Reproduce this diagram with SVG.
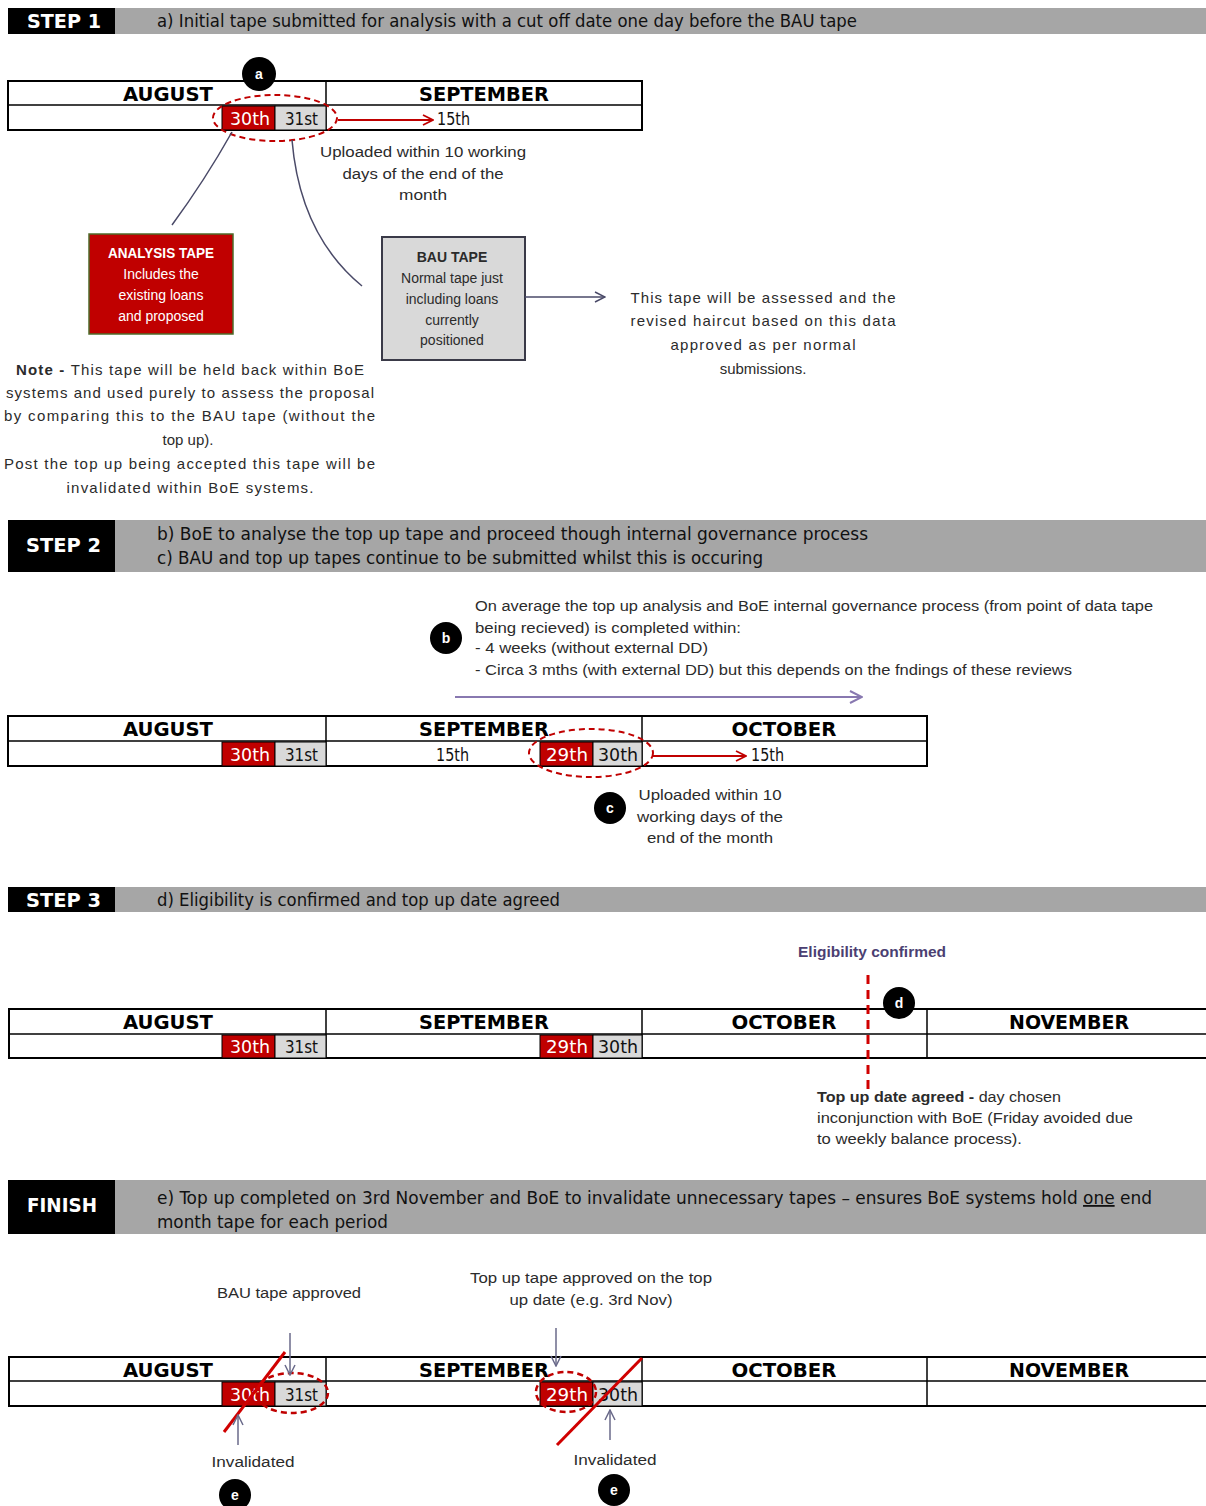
<svg xmlns="http://www.w3.org/2000/svg" width="1206" height="1506" viewBox="0 0 1206 1506">
<defs>
<style>
.blk{fill:#000}
.gry{fill:#a6a6a6}
.lbl{font-family:"DejaVu Sans Condensed","DejaVu Sans",sans-serif;font-weight:bold;font-size:19px;fill:#fff}
.ht{font-family:"DejaVu Sans Condensed","DejaVu Sans",sans-serif;font-size:18px;fill:#111}
.tbl{fill:#fff;stroke:#000;stroke-width:2}
.ln{stroke:#000;stroke-width:1.5}
.mon{font-family:"DejaVu Sans Condensed","DejaVu Sans",sans-serif;font-weight:bold;font-size:20px;fill:#000;text-anchor:middle}
.day{font-family:"DejaVu Sans Condensed","DejaVu Sans",sans-serif;font-size:17px}
.red{fill:#c00000;stroke:#000;stroke-width:1}
.gc{fill:#d9d9d9;stroke:#000;stroke-width:1}
.w{fill:#fff}
.k{fill:#111}
.b{font-family:"Liberation Sans",Arial,sans-serif;font-size:14px;fill:#2b2b2b}
.n{font-size:15px}
.c{text-anchor:middle}
.bd{font-weight:bold}
.dash{fill:none;stroke:#c00000;stroke-width:2;stroke-dasharray:6 4}
.bub{fill:#000}
.bt{font-family:"Liberation Sans",Arial,sans-serif;font-weight:bold;font-size:14px;fill:#fff;text-anchor:middle}
.con{fill:none;stroke:#4a4a68;stroke-width:1.5}
.slash{stroke:#d00000;stroke-width:3}
</style>
<marker id="arr" viewBox="0 0 12 12" refX="11" refY="6" markerWidth="12" markerHeight="12" markerUnits="userSpaceOnUse" orient="auto"><path d="M1 1 L11 6 L1 11" fill="none" stroke="#c00000" stroke-width="1.8"/></marker>
<marker id="arp" viewBox="0 0 14 14" refX="13" refY="7" markerWidth="14" markerHeight="14" markerUnits="userSpaceOnUse" orient="auto"><path d="M1 1 L13 7 L1 13" fill="none" stroke="#8878b0" stroke-width="2"/></marker>
<marker id="arg" viewBox="0 0 12 12" refX="11" refY="6" markerWidth="12" markerHeight="12" markerUnits="userSpaceOnUse" orient="auto"><path d="M1 1 L11 6 L1 11" fill="none" stroke="#4a4a68" stroke-width="1.5"/></marker>
<marker id="arv" viewBox="0 0 12 12" refX="11" refY="6" markerWidth="12" markerHeight="12" markerUnits="userSpaceOnUse" orient="auto"><path d="M1 1 L11 6 L1 11" fill="none" stroke="#6a6a8a" stroke-width="1.5"/></marker>
</defs>
<rect width="1206" height="1506" fill="#fff"/>

<g id="step1-header">
<rect class="gry" x="115" y="8" width="1091" height="26"/>
<rect class="blk" x="8" y="8" width="107" height="26"/>
<text class="lbl" x="27" y="28" textLength="74" lengthAdjust="spacingAndGlyphs">STEP 1</text>
<text class="ht" x="157" y="27" textLength="700" lengthAdjust="spacingAndGlyphs">a) Initial tape submitted for analysis with a cut off date one day before the BAU tape</text>
</g>

<g id="step1-timeline">
<rect class="tbl" x="8" y="81" width="634" height="49"/>
<line class="ln" x1="8" y1="105" x2="642" y2="105"/>
<line class="ln" x1="326" y1="81" x2="326" y2="130"/>
<text class="mon" x="168" y="101" textLength="90" lengthAdjust="spacingAndGlyphs">AUGUST</text>
<text class="mon" x="484" y="101" textLength="130" lengthAdjust="spacingAndGlyphs">SEPTEMBER</text>
<rect class="red" x="222" y="106" width="53" height="24"/>
<rect class="gc" x="275" y="106" width="51" height="24"/>
<text class="day w" x="230" y="125" textLength="40" lengthAdjust="spacingAndGlyphs">30th</text>
<text class="day k" x="285" y="125" textLength="33" lengthAdjust="spacingAndGlyphs">31st</text>
<text class="day k" x="437" y="125" textLength="33" lengthAdjust="spacingAndGlyphs">15th</text>
</g>
<g id="step1-ellipse"><ellipse class="dash" cx="275" cy="118" rx="62" ry="23"/></g>
<g id="bubble-a"><circle class="bub" cx="259" cy="74" r="17"/><text class="bt" x="259" y="79">a</text></g>
<g id="step1-upload-note">
<text class="b c" x="423" y="157" textLength="206" lengthAdjust="spacingAndGlyphs">Uploaded within 10 working</text>
<text class="b c" x="423" y="179" textLength="161" lengthAdjust="spacingAndGlyphs">days of the end of the</text>
<text class="b c" x="423" y="200" textLength="48" lengthAdjust="spacingAndGlyphs">month</text>
</g>

<g id="analysis-tape">
<rect x="89" y="234" width="144" height="100" fill="#c00000" stroke="#4e6b2a" stroke-width="1.5"/>
<text class="b c bd" x="161" y="258" style="fill:#fff" textLength="106" lengthAdjust="spacingAndGlyphs">ANALYSIS TAPE</text>
<text class="b c" x="161" y="279" style="fill:#fff">Includes the</text>
<text class="b c" x="161" y="300" style="fill:#fff">existing loans</text>
<text class="b c" x="161" y="321" style="fill:#fff">and proposed</text>
</g>

<g id="bau-tape">
<rect x="382" y="237" width="143" height="123" fill="#d9d9d9" stroke="#3a3a48" stroke-width="2"/>
<text class="b c bd" x="452" y="262">BAU TAPE</text>
<text class="b c" x="452" y="283">Normal tape just</text>
<text class="b c" x="452" y="304">including loans</text>
<text class="b c" x="452" y="325">currently</text>
<text class="b c" x="452" y="345">positioned</text>
</g>

<g id="bau-assess-note">
<text class="b n c" x="763" y="303" textLength="265" lengthAdjust="spacing">This tape will be assessed and the</text>
<text class="b n c" x="763" y="326" textLength="265" lengthAdjust="spacing">revised haircut based on this data</text>
<text class="b n c" x="763" y="350" textLength="185" lengthAdjust="spacing">approved as per normal</text>
<text class="b n c" x="763" y="374">submissions.</text>
</g>

<g id="analysis-note">
<text class="b n" x="16" y="375" textLength="348" lengthAdjust="spacing"><tspan style="font-weight:bold">Note - </tspan>This tape will be held back within BoE</text>
<text class="b n" x="6" y="398" textLength="368" lengthAdjust="spacing">systems and used purely to assess the proposal</text>
<text class="b n" x="4" y="421" textLength="371" lengthAdjust="spacing">by comparing this to the BAU tape (without the</text>
<text class="b n c" x="188" y="445">top up).</text>
<text class="b n" x="4" y="469" textLength="371" lengthAdjust="spacing">Post the top up being accepted this tape will be</text>
<text class="b n c" x="190" y="493" textLength="247" lengthAdjust="spacing">invalidated within BoE systems.</text>
</g>

<g id="step2-header">
<rect class="gry" x="115" y="520" width="1091" height="52"/>
<rect class="blk" x="8" y="520" width="107" height="52"/>
<text class="lbl" x="26" y="552" textLength="75" lengthAdjust="spacingAndGlyphs">STEP 2</text>
<text class="ht" x="157" y="540" textLength="711" lengthAdjust="spacingAndGlyphs">b) BoE to analyse the top up tape and proceed though internal governance process</text>
<text class="ht" x="157" y="564" textLength="606" lengthAdjust="spacingAndGlyphs">c) BAU and top up tapes continue to be submitted whilst this is occuring</text>
</g>

<g id="bubble-b"><circle class="bub" cx="446" cy="638" r="16"/><text class="bt" x="446" y="643">b</text></g>
<g id="step2-process-note">
<text class="b" x="475" y="611" textLength="678" lengthAdjust="spacingAndGlyphs">On average the top up analysis and BoE internal governance process (from point of data tape</text>
<text class="b" x="475" y="633" textLength="266" lengthAdjust="spacingAndGlyphs">being recieved) is completed within:</text>
<text class="b" x="475" y="653" textLength="233" lengthAdjust="spacingAndGlyphs">- 4 weeks (without external DD)</text>
<text class="b" x="475" y="675" textLength="597" lengthAdjust="spacingAndGlyphs">- Circa 3 mths (with external DD) but this depends on the fndings of these reviews</text>
</g>

<g id="step2-timeline">
<rect class="tbl" x="8" y="716" width="919" height="50"/>
<line class="ln" x1="8" y1="741" x2="927" y2="741"/>
<line class="ln" x1="326" y1="716" x2="326" y2="766"/>
<line class="ln" x1="642" y1="716" x2="642" y2="766"/>
<text class="mon" x="168" y="736" textLength="90" lengthAdjust="spacingAndGlyphs">AUGUST</text>
<text class="mon" x="484" y="736" textLength="130" lengthAdjust="spacingAndGlyphs">SEPTEMBER</text>
<text class="mon" x="784" y="736" textLength="105" lengthAdjust="spacingAndGlyphs">OCTOBER</text>
<rect class="red" x="222" y="742" width="53" height="24"/>
<rect class="gc" x="275" y="742" width="51" height="24"/>
<text class="day w" x="230" y="761" textLength="40" lengthAdjust="spacingAndGlyphs">30th</text>
<text class="day k" x="285" y="761" textLength="33" lengthAdjust="spacingAndGlyphs">31st</text>
<text class="day k" x="436" y="761" textLength="33" lengthAdjust="spacingAndGlyphs">15th</text>
<rect class="red" x="540" y="742" width="53" height="24"/>
<rect class="gc" x="593" y="742" width="49" height="24"/>
<text class="day w" x="546" y="761" textLength="42" lengthAdjust="spacingAndGlyphs">29th</text>
<text class="day k" x="598" y="761" textLength="40" lengthAdjust="spacingAndGlyphs">30th</text>
<text class="day k" x="751" y="761" textLength="33" lengthAdjust="spacingAndGlyphs">15th</text>
</g>
<g id="step2-ellipse"><ellipse class="dash" cx="591" cy="753" rx="62" ry="24"/></g>
<g id="bubble-c"><circle class="bub" cx="610" cy="808" r="16"/><text class="bt" x="610" y="813">c</text></g>
<g id="step2-upload-note">
<text class="b c" x="710" y="800" textLength="143" lengthAdjust="spacingAndGlyphs">Uploaded within 10</text>
<text class="b c" x="710" y="822" textLength="146" lengthAdjust="spacingAndGlyphs">working days of the</text>
<text class="b c" x="710" y="843" textLength="126" lengthAdjust="spacingAndGlyphs">end of the month</text>
</g>

<g id="step3-header">
<rect class="gry" x="115" y="887" width="1091" height="25"/>
<rect class="blk" x="8" y="887" width="107" height="25"/>
<text class="lbl" x="26" y="907" textLength="75" lengthAdjust="spacingAndGlyphs">STEP 3</text>
<text class="ht" x="157" y="906" textLength="403" lengthAdjust="spacingAndGlyphs">d) Eligibility is confirmed and top up date agreed</text>
</g>

<g id="eligibility-label"><text class="b" x="798" y="957" style="fill:#4b3f72;font-weight:bold" textLength="148" lengthAdjust="spacingAndGlyphs">Eligibility confirmed</text></g>

<g id="step3-timeline">
<line class="ln" x1="8" y1="1009" x2="1206" y2="1009" style="stroke-width:2"/>
<line class="ln" x1="8" y1="1034" x2="1206" y2="1034"/>
<line class="ln" x1="8" y1="1058" x2="1206" y2="1058" style="stroke-width:2"/>
<line class="ln" x1="9" y1="1009" x2="9" y2="1058" style="stroke-width:2"/>
<line class="ln" x1="326" y1="1009" x2="326" y2="1058"/>
<line class="ln" x1="642" y1="1009" x2="642" y2="1058"/>
<line class="ln" x1="927" y1="1009" x2="927" y2="1058"/>
<text class="mon" x="168" y="1029" textLength="90" lengthAdjust="spacingAndGlyphs">AUGUST</text>
<text class="mon" x="484" y="1029" textLength="130" lengthAdjust="spacingAndGlyphs">SEPTEMBER</text>
<text class="mon" x="784" y="1029" textLength="105" lengthAdjust="spacingAndGlyphs">OCTOBER</text>
<text class="mon" x="1069" y="1029" textLength="120" lengthAdjust="spacingAndGlyphs">NOVEMBER</text>
<rect class="red" x="222" y="1035" width="53" height="23"/>
<rect class="gc" x="275" y="1035" width="51" height="23"/>
<text class="day w" x="230" y="1053" textLength="40" lengthAdjust="spacingAndGlyphs">30th</text>
<text class="day k" x="285" y="1053" textLength="33" lengthAdjust="spacingAndGlyphs">31st</text>
<rect class="red" x="540" y="1035" width="53" height="23"/>
<rect class="gc" x="593" y="1035" width="49" height="23"/>
<text class="day w" x="546" y="1053" textLength="42" lengthAdjust="spacingAndGlyphs">29th</text>
<text class="day k" x="598" y="1053" textLength="40" lengthAdjust="spacingAndGlyphs">30th</text>
</g>
<g id="eligibility-marker"><line x1="868" y1="975" x2="868" y2="1090" stroke="#d00000" stroke-width="3" stroke-dasharray="9 6"/></g>
<g id="bubble-d"><circle class="bub" cx="899" cy="1003" r="16"/><text class="bt" x="899" y="1008">d</text></g>
<g id="topup-date-note">
<text class="b" x="817" y="1102" textLength="244" lengthAdjust="spacingAndGlyphs"><tspan style="font-weight:bold">Top up date agreed -</tspan> day chosen</text>
<text class="b" x="817" y="1123" textLength="316" lengthAdjust="spacingAndGlyphs">inconjunction with BoE (Friday avoided due</text>
<text class="b" x="817" y="1144" textLength="205" lengthAdjust="spacingAndGlyphs">to weekly balance process).</text>
</g>

<g id="finish-header">
<rect class="gry" x="115" y="1180" width="1091" height="54"/>
<rect class="blk" x="8" y="1180" width="107" height="54"/>
<text class="lbl" x="27" y="1212" textLength="70" lengthAdjust="spacingAndGlyphs">FINISH</text>
<text class="ht" x="157" y="1204" textLength="995" lengthAdjust="spacingAndGlyphs">e) Top up completed on 3rd November and BoE to invalidate unnecessary tapes – ensures BoE systems hold <tspan text-decoration="underline">one</tspan> end</text>
<text class="ht" x="157" y="1228" textLength="231" lengthAdjust="spacingAndGlyphs">month tape for each period</text>
</g>

<g id="bau-approved-label"><text class="b c" x="289" y="1298" textLength="144" lengthAdjust="spacingAndGlyphs">BAU tape approved</text></g>
<g id="topup-approved-label">
<text class="b c" x="591" y="1283" textLength="242" lengthAdjust="spacingAndGlyphs">Top up tape approved on the top</text>
<text class="b c" x="591" y="1305" textLength="163" lengthAdjust="spacingAndGlyphs">up date (e.g. 3rd Nov)</text>
</g>

<g id="finish-timeline">
<line class="ln" x1="8" y1="1357" x2="1206" y2="1357" style="stroke-width:2"/>
<line class="ln" x1="8" y1="1381" x2="1206" y2="1381"/>
<line class="ln" x1="8" y1="1406" x2="1206" y2="1406" style="stroke-width:2"/>
<line class="ln" x1="9" y1="1357" x2="9" y2="1406" style="stroke-width:2"/>
<line class="ln" x1="326" y1="1357" x2="326" y2="1406"/>
<line class="ln" x1="642" y1="1357" x2="642" y2="1406"/>
<line class="ln" x1="927" y1="1357" x2="927" y2="1406"/>
<text class="mon" x="168" y="1377" textLength="90" lengthAdjust="spacingAndGlyphs">AUGUST</text>
<text class="mon" x="484" y="1377" textLength="130" lengthAdjust="spacingAndGlyphs">SEPTEMBER</text>
<text class="mon" x="784" y="1377" textLength="105" lengthAdjust="spacingAndGlyphs">OCTOBER</text>
<text class="mon" x="1069" y="1377" textLength="120" lengthAdjust="spacingAndGlyphs">NOVEMBER</text>
<rect class="red" x="222" y="1382" width="53" height="24"/>
<rect class="gc" x="275" y="1382" width="51" height="24"/>
<text class="day w" x="230" y="1401" textLength="40" lengthAdjust="spacingAndGlyphs">30th</text>
<text class="day k" x="285" y="1401" textLength="33" lengthAdjust="spacingAndGlyphs">31st</text>
<rect class="red" x="540" y="1382" width="53" height="24"/>
<rect class="gc" x="593" y="1382" width="49" height="24"/>
<text class="day w" x="546" y="1401" textLength="42" lengthAdjust="spacingAndGlyphs">29th</text>
<text class="day k" x="598" y="1401" textLength="40" lengthAdjust="spacingAndGlyphs">30th</text>
</g>
<g id="finish-ellipses">
<ellipse class="dash" cx="292" cy="1393" rx="36" ry="20" style="stroke-width:2.5"/>
<ellipse class="dash" cx="566" cy="1392" rx="30" ry="20" style="stroke-width:2.5"/>
</g>
<g id="finish-slashes">
<line class="slash" x1="224" y1="1432" x2="285" y2="1352"/>
<line class="slash" x1="557" y1="1445" x2="642" y2="1358"/>
</g>
<g id="invalidated-labels">
<text class="b c" x="253" y="1467" textLength="83" lengthAdjust="spacingAndGlyphs">Invalidated</text>
<text class="b c" x="615" y="1465" textLength="83" lengthAdjust="spacingAndGlyphs">Invalidated</text>
</g>
<g id="bubble-e1"><circle class="bub" cx="235" cy="1495" r="16"/><text class="bt" x="235" y="1500">e</text></g>
<g id="bubble-e2"><circle class="bub" cx="614" cy="1490" r="16"/><text class="bt" x="614" y="1495">e</text></g>

<g id="connectors">
<line x1="338" y1="120" x2="433" y2="120" stroke="#c00000" stroke-width="1.8" marker-end="url(#arr)"/>
<line x1="652" y1="756" x2="746" y2="756" stroke="#c00000" stroke-width="1.8" marker-end="url(#arr)"/>
<path class="con" d="M232 132 Q205 180 172 225"/>
<path class="con" d="M292 140 Q300 235 362 286"/>
<line class="con" x1="525" y1="297" x2="605" y2="297" marker-end="url(#arg)"/>
<line x1="455" y1="697" x2="862" y2="697" stroke="#8878b0" stroke-width="2" marker-end="url(#arp)"/>
<line x1="290" y1="1333" x2="290" y2="1375" stroke="#6a6a8a" stroke-width="1.5" marker-end="url(#arv)"/>
<line x1="556" y1="1328" x2="556" y2="1366" stroke="#6a6a8a" stroke-width="1.5" marker-end="url(#arv)"/>
<line x1="238" y1="1445" x2="238" y2="1415" stroke="#6a6a8a" stroke-width="1.5" marker-end="url(#arv)"/>
<line x1="610" y1="1440" x2="610" y2="1410" stroke="#6a6a8a" stroke-width="1.5" marker-end="url(#arv)"/>
</g>
</svg>
